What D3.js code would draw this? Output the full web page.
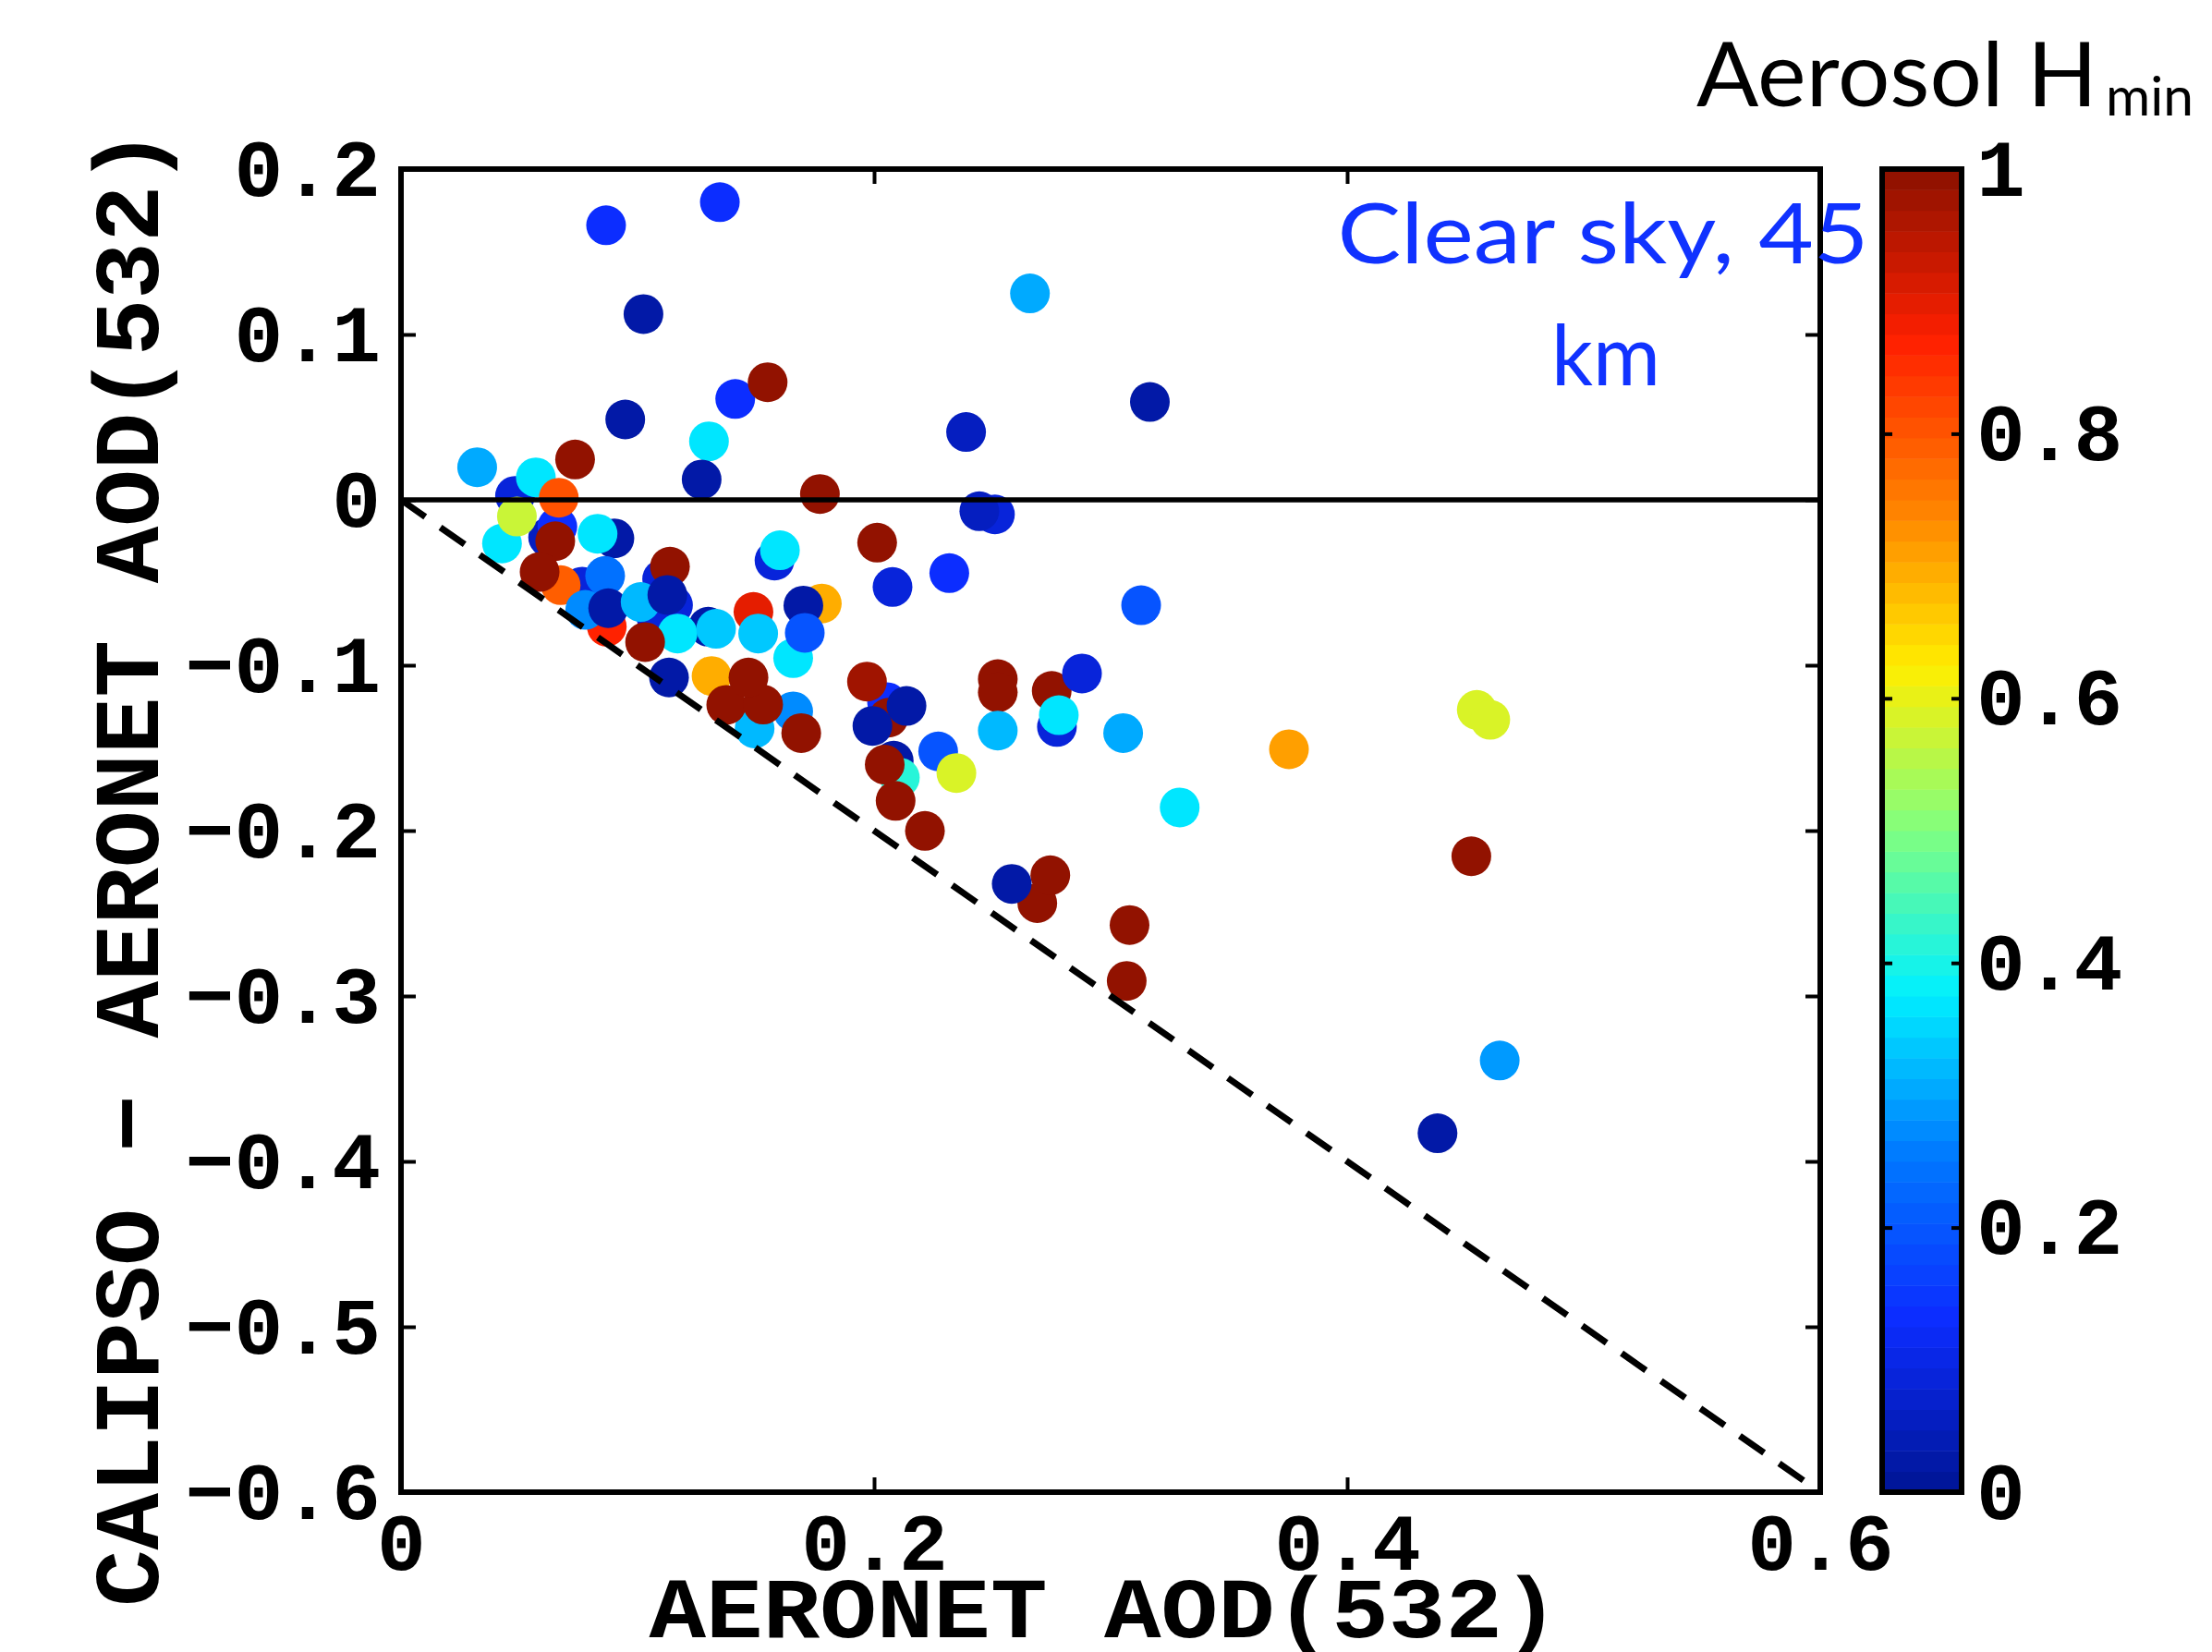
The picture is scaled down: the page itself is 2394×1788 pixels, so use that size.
<!DOCTYPE html>
<html>
<head>
<meta charset="utf-8">
<script src="https://cdn.jsdelivr.net/npm/d3@7"></script>
<style>
  body { margin: 0; background: #fff; }
  .mono { font-family: "Liberation Mono", "Courier New", monospace; font-weight: bold; }
  .hand { font-family: "Comic Sans MS", "Lato", "Noto Sans", sans-serif; }
</style>
</head>
<body>
<div id="chart"></div>
<script>
// AERONET AOD(532), CALIPSO - AERONET AOD(532), aerosol Hmin (colour)
// listed back to front, in drawing order
const aeronetAOD = [
  0.2511, 0.2445, 0.0482, 0.0622, 0.0902, 0.0766, 0.1104, 0.1150, 0.1078, 0.1299,
  0.1579, 0.1779, 0.2055, 0.2061, 0.2083, 0.2773, 0.0427, 0.0661, 0.0870, 0.0675,
  0.1313, 0.1495, 0.1658, 0.1490, 0.1658, 0.2109, 0.0736, 0.0570, 0.0322, 0.0667,
  0.0490, 0.0652, 0.0831, 0.0586, 0.0863, 0.0779, 0.0876, 0.1013, 0.1137, 0.1126,
  0.1169, 0.1032, 0.1133, 0.1332, 0.1375, 0.1531, 0.1469, 0.2013, 0.1602, 0.2078,
  0.2318, 0.1701, 0.1707, 0.1510, 0.1970, 0.2137, 0.1993, 0.2271, 0.2348, 0.2045,
  0.2091, 0.2215, 0.1692, 0.2523, 0.2523, 0.2751, 0.2879, 0.2781, 0.2523, 0.3053,
  0.3292, 0.3129, 0.2690, 0.2745, 0.2582, 0.3080, 0.3068, 0.3754, 0.4548, 0.4605,
  0.4525, 0.4645, 0.4382, 0.0867, 0.1348, 0.1025, 0.2659, 0.0948, 0.1413, 0.1550,
  0.1302, 0.1271, 0.2389, 0.3166, 0.1771
];
const aodDiff = [
  -0.0088, -0.0069, 0.0024, -0.0227, -0.0233, -0.0525, -0.0479, -0.0637, -0.0702, -0.0767,
  -0.0367, -0.0627, -0.1223, -0.1317, -0.1577, -0.1373, -0.0264, -0.0162, -0.0767, -0.0516,
  -0.1065, -0.1382, -0.1279, -0.0678, -0.0957, -0.1680, 0.0244, 0.0136, 0.0197, 0.0013,
  -0.0101, -0.0250, -0.0205, -0.0436, -0.0460, -0.0665, -0.0655, -0.0618, -0.0404, -0.0575,
  -0.0808, -0.0860, -0.1074, -0.0780, -0.1240, -0.1238, -0.1074, -0.0259, -0.0305, -0.0527,
  -0.0443, -0.0639, -0.0804, -0.0808, -0.1099, -0.1246, -0.1367, -0.1521, -0.1652, -0.1601,
  -0.1820, -0.2002, -0.1410, -0.1084, -0.1164, -0.1155, -0.1050, -0.1302, -0.1395, -0.1410,
  -0.1860, -0.0637, -0.2438, -0.2270, -0.2322, -0.2571, -0.2909, -0.1508, -0.1270, -0.1330,
  -0.2155, -0.3390, -0.3830, 0.1660, 0.1800, 0.1123, 0.1248, 0.0486, 0.0610, 0.0711,
  0.0354, 0.0123, 0.0410, 0.0592, 0.0035
];
const hMin = [
  0.08, 0.06, 0.08, 0.06, 0.03, 0.08, 0.08, 0.08, 0.08, 0.03,
  0.08, 0.695, 0.125, 1.0, 0.03, 0.08, 0.365, 0.125, 0.86, 0.79,
  0.695, 0.325, 0.275, 0.90, 0.365, 0.414, 1.0, 0.365, 0.30, 0.80,
  0.57, 1.0, 0.365, 1.0, 0.235, 0.275, 0.03, 0.32, 1.0, 0.03,
  0.365, 1.0, 0.03, 0.335, 1.0, 1.0, 1.0, 1.0, 0.365, 0.08,
  0.125, 0.03, 0.20, 0.335, 0.975, 0.03, 0.03, 0.20, 0.59, 1.0,
  1.0, 1.0, 1.0, 1.0, 1.0, 1.0, 0.08, 0.365, 0.325, 0.30,
  0.365, 0.20, 1.0, 1.0, 0.03, 1.0, 1.0, 0.714, 0.59, 0.59,
  1.0, 0.29, 0.03, 0.125, 0.125, 0.03, 0.31, 0.03, 0.125, 1.0,
  0.365, 0.03, 0.06, 0.03, 1.0
];

const xTicks = [0, 0.2, 0.4, 0.6];
const yTicks = [-0.6, -0.5, -0.4, -0.3, -0.2, -0.1, 0, 0.1, 0.2];
const cTicks = [0, 0.2, 0.4, 0.6, 0.8, 1];
// jet-like colormap
const cmapColors = ["#00169a", "#0c2cff", "#0078ff", "#00f0ff", "#80ff80",
                    "#ffee00", "#ff8000", "#ff2000", "#921200"];
const nLevels = 64;

const W = 2394, H = 1788;
const plot = {left: 434, right: 1970, top: 183, bottom: 1615};
const cbar = {left: 2037, right: 2123};

const svg = d3.select('#chart').append('svg')
  .attr('width', W).attr('height', H)
  .style('background', '#fff');

const x = d3.scaleLinear().domain([0, 0.6]).range([plot.left, plot.right]);
const y = d3.scaleLinear().domain([-0.6, 0.2]).range([plot.bottom, plot.top]);

const cmap = d3.scaleLinear()
  .domain(d3.range(cmapColors.length).map(i => i / (cmapColors.length - 1)))
  .range(cmapColors)
  .interpolate(d3.interpolateRgb);
const level = v => Math.min(nLevels - 1, Math.floor(v * nLevels));
const colorOf = v => cmap(level(v) / (nLevels - 1));

const pts = aeronetAOD.map((a, i) => ({a: a, d: aodDiff[i], h: hMin[i]}));

// points
svg.append('g').selectAll('circle')
  .data(pts).enter().append('circle')
  .attr('cx', p => x(p.a)).attr('cy', p => y(p.d))
  .attr('r', 21.5)
  .attr('fill', p => colorOf(p.h));

// zero line and 1:-1 line
svg.append('line')
  .attr('x1', x(0)).attr('x2', x(0.6)).attr('y1', y(0)).attr('y2', y(0))
  .attr('stroke', '#000').attr('stroke-width', 5.5);
svg.append('line')
  .attr('x1', x(0)).attr('y1', y(0)).attr('x2', x(0.6)).attr('y2', y(-0.6))
  .attr('stroke', '#000').attr('stroke-width', 7)
  .attr('stroke-dasharray', '32,20');

// axes
const fmtY = d => d === 0 ? '0' : d3.format('.1f')(d);
const fmtX = d => d === 0 ? '0' : d3.format('.1f')(d);

function styleAxis(g) {
  g.select('.domain').remove();
  g.selectAll('.tick line').attr('stroke', '#000').attr('stroke-width', 4);
  g.selectAll('.tick text').attr('class', 'mono').attr('fill', '#000')
    .style('font-size', '88px');
}

svg.append('g').attr('transform', `translate(0,${plot.bottom})`)
  .call(d3.axisBottom(x).tickValues(xTicks).tickFormat(fmtX).tickSize(-16).tickPadding(22))
  .call(styleAxis);
svg.append('g').attr('transform', `translate(0,${plot.top})`)
  .call(d3.axisTop(x).tickValues(xTicks).tickFormat('').tickSize(-16))
  .call(styleAxis);
svg.append('g').attr('transform', `translate(${plot.left},0)`)
  .call(d3.axisLeft(y).tickValues(yTicks).tickFormat(fmtY).tickSize(-16).tickPadding(22))
  .call(styleAxis);
svg.append('g').attr('transform', `translate(${plot.right},0)`)
  .call(d3.axisRight(y).tickValues(yTicks).tickFormat('').tickSize(-16))
  .call(styleAxis);

// frame
svg.append('rect')
  .attr('x', plot.left).attr('y', plot.top)
  .attr('width', plot.right - plot.left).attr('height', plot.bottom - plot.top)
  .attr('fill', 'none').attr('stroke', '#000').attr('stroke-width', 6);

// axis titles
svg.append('text').attr('class', 'mono')
  .attr('x', 1195).attr('y', 1772)
  .attr('text-anchor', 'middle')
  .attr('textLength', 985).attr('lengthAdjust', 'spacingAndGlyphs')
  .style('font-size', '92px')
  .text('AERONET AOD(532)');
svg.append('text').attr('class', 'mono')
  .attr('transform', 'translate(171,939) rotate(-90)')
  .attr('text-anchor', 'middle')
  .attr('textLength', 1600).attr('lengthAdjust', 'spacingAndGlyphs')
  .style('font-size', '100px')
  .text('CALIPSO \u2212 AERONET AOD(532)');

// annotation
const note = svg.append('text').attr('class', 'hand')
  .attr('fill', '#1032ff').style('font-size', '92px')
  .attr('text-anchor', 'middle');
note.append('tspan').attr('x', 1735).attr('y', 285)
  .attr('textLength', 575).attr('lengthAdjust', 'spacingAndGlyphs')
  .text('Clear sky, 45');
note.append('tspan').attr('x', 1738).attr('y', 417)
  .attr('textLength', 118).attr('lengthAdjust', 'spacingAndGlyphs')
  .text('km');

// colour bar
const c = d3.scaleLinear().domain([0, 1]).range([plot.bottom, plot.top]);
const bands = d3.range(nLevels);
svg.append('g').selectAll('rect')
  .data(bands).enter().append('rect')
  .attr('x', cbar.left).attr('width', cbar.right - cbar.left)
  .attr('y', i => c((i + 1) / nLevels))
  .attr('height', i => c(i / nLevels) - c((i + 1) / nLevels) + 0.5)
  .attr('fill', i => cmap(i / (nLevels - 1)));

svg.append('g').attr('transform', `translate(${cbar.right},0)`)
  .call(d3.axisRight(c).tickValues(cTicks).tickFormat(d3.format('~g')).tickSize(-11).tickPadding(16))
  .call(styleAxis);
svg.append('g').attr('transform', `translate(${cbar.left},0)`)
  .call(d3.axisLeft(c).tickValues(cTicks).tickFormat('').tickSize(-11))
  .call(styleAxis);
svg.append('rect')
  .attr('x', cbar.left).attr('y', plot.top)
  .attr('width', cbar.right - cbar.left).attr('height', plot.bottom - plot.top)
  .attr('fill', 'none').attr('stroke', '#000').attr('stroke-width', 6);

// colour bar title
svg.append('text').attr('class', 'hand')
  .attr('x', 1836).attr('y', 115)
  .attr('textLength', 434).attr('lengthAdjust', 'spacingAndGlyphs')
  .style('font-size', '97px')
  .text('Aerosol H');
svg.append('text').attr('class', 'hand')
  .attr('x', 2279).attr('y', 125)
  .attr('textLength', 95).attr('lengthAdjust', 'spacingAndGlyphs')
  .style('font-size', '58px')
  .text('min');
</script>
</body>
</html>
